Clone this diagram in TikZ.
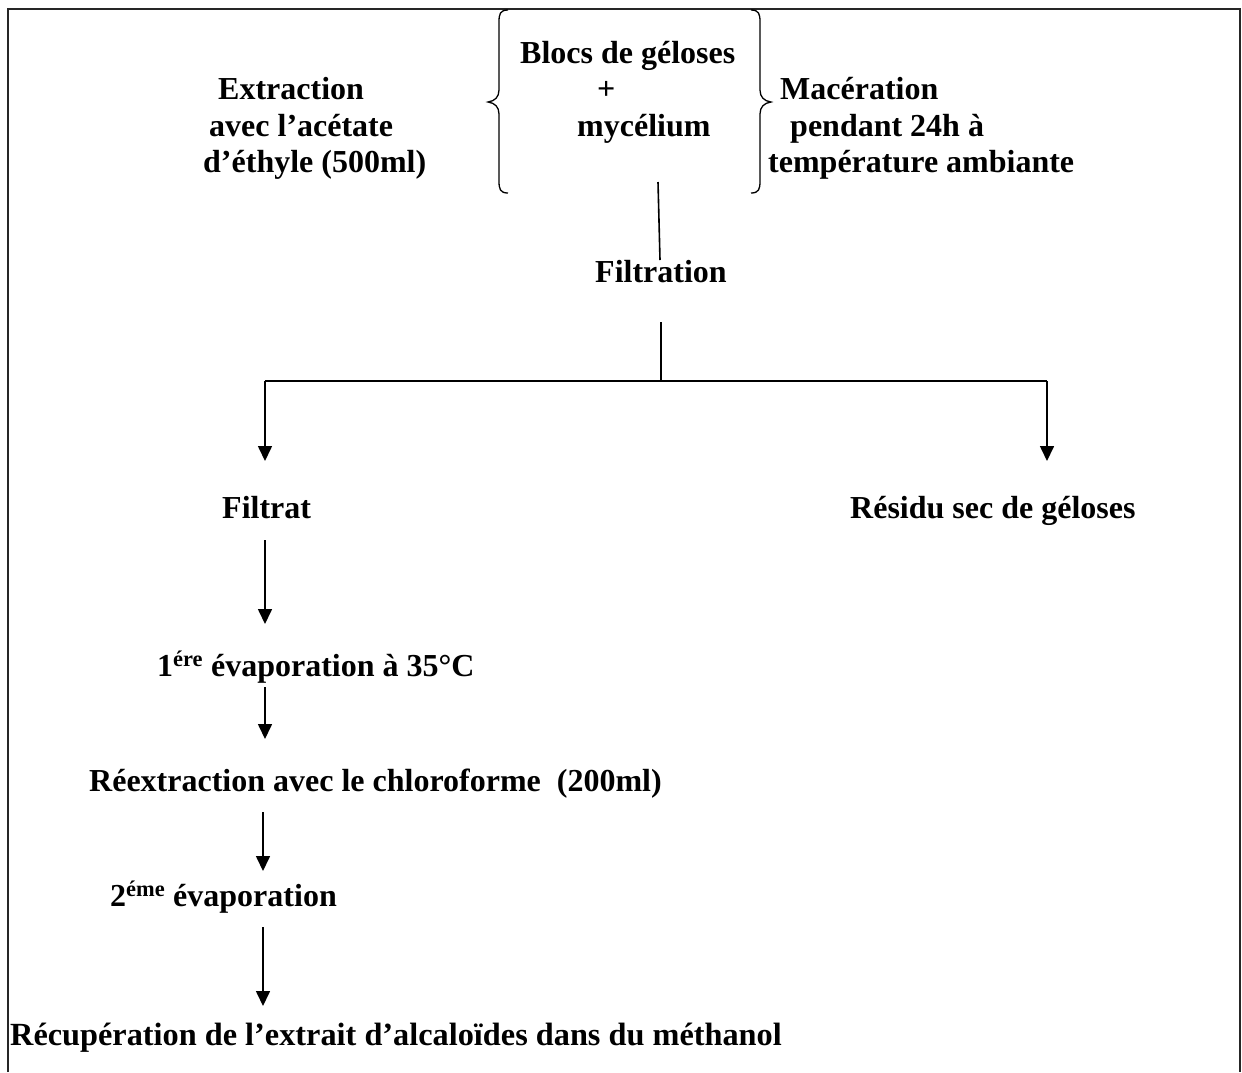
\documentclass[tikz,border=0pt]{standalone}
\usepackage{fontspec}
\setmainfont{Liberation Serif}
\usetikzlibrary{arrows.meta}
\tikzset{
  lbl/.style={anchor=base west, inner sep=0pt, font=\fontsize{32}{38}\selectfont\bfseries},
  ln/.style={line width=1.6pt, black},
  arr/.style={ln, -{Triangle[width=14pt,length=15pt]}},
  frm/.style={line width=2.6pt, black!85},
  brc/.style={line width=1.3pt, black}
}
\begin{document}
\begin{tikzpicture}[x=1pt,y=-1pt]
\useasboundingbox (0,0) rectangle (1242,1072);
% frame
\draw[frm] (8,1072) -- (8,9) -- (1240,9) -- (1240,1072);
% braces
\draw[brc] (508,10) .. controls (500,10) and (499,14) .. (499,22) -- (499,90)
  .. controls (499,97) and (495,101) .. (488,102) .. controls (495,103) and (499,107) .. (499,114)
  -- (499,181) .. controls (499,189) and (500,193) .. (508,193);
\draw[brc] (751,10) .. controls (759,10) and (760,14) .. (760,22) -- (760,90)
  .. controls (760,97) and (764,101) .. (771,102) .. controls (764,103) and (760,107) .. (760,114)
  -- (760,181) .. controls (760,189) and (759,193) .. (751,193);
% texts
\node[lbl] (blocs) at (520,63) {Blocs de géloses};
\node[lbl] (plus) at (597,99) {+};
\node[lbl] (myc) at (577,136) {mycélium};
\node[lbl] (ex1) at (218,99) {Extraction};
\node[lbl] (ex2) at (209,136) {avec l’acétate};
\node[lbl] (ex3) at (203,172) {d’éthyle (500ml)};
\node[lbl] (ma1) at (780,99) {Macération};
\node[lbl] (ma2) at (790,136) {pendant 24h à};
\node[lbl] (ma3) at (768,172) {température ambiante};
\node[lbl] (filtration) at (595,282) {Filtration};
\node[lbl] (filtrat) at (222,518) {Filtrat};
\node[lbl] (residu) at (850,518) {Résidu sec de géloses};
\node[lbl] (evap1) at (157,676) {1\textsuperscript{ére} évaporation à 35°C};
\node[lbl] (reex) at (89,791) {Réextraction avec le chloroforme~ (200ml)};
\node[lbl] (evap2) at (110,906) {2\textsuperscript{éme} évaporation};
\node[lbl, font=\fontsize{32.3}{38}\selectfont\bfseries] (recup) at (10,1045) {Récupération de l’extrait d’alcaloïdes dans du méthanol};
% connectors
\coordinate (c1) at (658,182);
\coordinate (c2) at (660,260);
\coordinate (c3) at (661,322);
\coordinate (j) at (661,381);
\coordinate (jl) at (265,381);
\coordinate (jr) at (1047,381);
\coordinate (tl) at (265,461);
\coordinate (tr) at (1047,461);
\draw[ln] (c1) -- (c2);
\draw[ln] (c3) -- (j);
\draw[ln] (jl) -- (jr);
\draw[arr] (jl) -- (tl);
\draw[arr] (jr) -- (tr);
\coordinate (a1s) at (265,540); \coordinate (a1e) at (265,624);
\coordinate (a2s) at (265,687); \coordinate (a2e) at (265,739);
\coordinate (a3s) at (263,812); \coordinate (a3e) at (263,871);
\coordinate (a4s) at (263,927); \coordinate (a4e) at (263,1006);
\draw[arr] (a1s) -- (a1e);
\draw[arr] (a2s) -- (a2e);
\draw[arr] (a3s) -- (a3e);
\draw[arr] (a4s) -- (a4e);
\end{tikzpicture}
\end{document}
